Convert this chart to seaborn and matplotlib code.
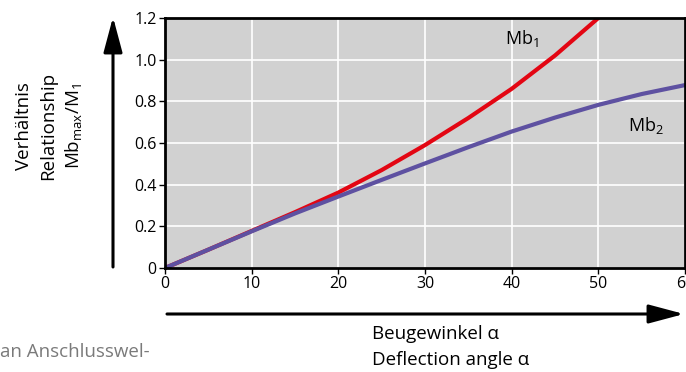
import matplotlib
matplotlib.use("Agg")
import matplotlib.pyplot as plt
import seaborn as sns
import pandas as pd

# deflection angle (deg) and bending-moment ratios
angle = [0, 5, 10, 15, 20, 25, 30, 35, 40, 45, 50, 55, 60]
mb1 = [0.0, 0.088, 0.178, 0.268, 0.362, 0.47, 0.59, 0.72, 0.86, 1.02, 1.2, None, None]
mb2 = [0.0, 0.088, 0.176, 0.262, 0.343, 0.423, 0.502, 0.58, 0.655, 0.722, 0.783, 0.835, 0.878]
x_ticks = [0, 10, 20, 30, 40, 50, 60]
y_ticks = [0, 0.2, 0.4, 0.6, 0.8, 1.0, 1.2]
y_ticklabels = ["0", "0.2", "0.4", "0.6", "0.8", "1.0", "1.2"]

sns.set_style("white")
plt.rcParams['font.family'] = ['Open Sans', 'DejaVu Sans']
plt.rcParams['mathtext.default'] = 'regular'
plt.rcParams['text.color'] = 'black'
plt.rcParams['xtick.color'] = 'black'
plt.rcParams['ytick.color'] = 'black'

df = pd.DataFrame({"angle": angle, "Mb1": mb1, "Mb2": mb2}).melt(
    id_vars="angle", var_name="curve", value_name="ratio").dropna()

W, H = 686, 372
fig = plt.figure(figsize=(W / 100, H / 100), dpi=100)
ax = fig.add_axes([165 / W, 1 - 268 / H, 520 / W, 250 / H])
ax.set_facecolor("#d1d1d1")

sns.lineplot(data=df, x="angle", y="ratio", hue="curve",
             palette={"Mb1": "#e30613", "Mb2": "#5e51a1"},
             hue_order=["Mb1", "Mb2"], linewidth=3, legend=False, ax=ax)

ax.set_xlim(0, 60)
ax.set_ylim(0, 1.2)
ax.set_xticks(x_ticks)
ax.set_yticks(y_ticks)
ax.set_yticklabels(y_ticklabels)
ax.grid(True, color="white", linewidth=1.2)
ax.set_axisbelow(True)
ax.set_xlabel("")
ax.set_ylabel("")
for s in ax.spines.values():
    s.set_color("black")
    s.set_linewidth(2)
ax.tick_params(direction="out", length=4, width=1, color="black",
               labelsize=11.5, pad=2, bottom=True, left=True)

ax.text(39.2, 1.1, "Mb$_{1}$", fontsize=13, va="center")
ax.text(53.4, 0.686, "Mb$_{2}$", fontsize=13, va="center")

# axis arrows
arrow = dict(arrowstyle="-|>,head_length=1.2,head_width=0.32", lw=2.2,
             color="black", mutation_scale=18, shrinkA=0, shrinkB=0)
fig.add_artist(matplotlib.patches.FancyArrowPatch(
    (113 / W, 1 - 267 / H), (113 / W, 1 - 17 / H),
    transform=fig.transFigure, **arrow))
fig.add_artist(matplotlib.patches.FancyArrowPatch(
    (167 / W, 1 - 314 / H), (684 / W, 1 - 314 / H),
    transform=fig.transFigure, **arrow))

# axis titles
fig.text(24 / W, 1 - 126 / H, "Verhältnis", rotation=90, fontsize=13.5,
         ha="center", va="center")
fig.text(48 / W, 1 - 126 / H, "Relationship", rotation=90, fontsize=13.5,
         ha="center", va="center")
fig.text(74 / W, 1 - 126 / H, "Mb$_{max}$/M$_{1}$", rotation=90, fontsize=13.5,
         ha="center", va="center")
fig.text(372 / W, 1 - 334 / H, "Beugewinkel α", fontsize=13.5, va="center")
fig.text(372 / W, 1 - 360 / H, "Deflection angle α", fontsize=13.5, va="center")

# neighbouring page text
fig.text(0, 1 - 352 / H, "an Anschlusswel-", fontsize=13.5, color="#7a7a7a",
         va="center")

fig.savefig("out.png", dpi=100)
